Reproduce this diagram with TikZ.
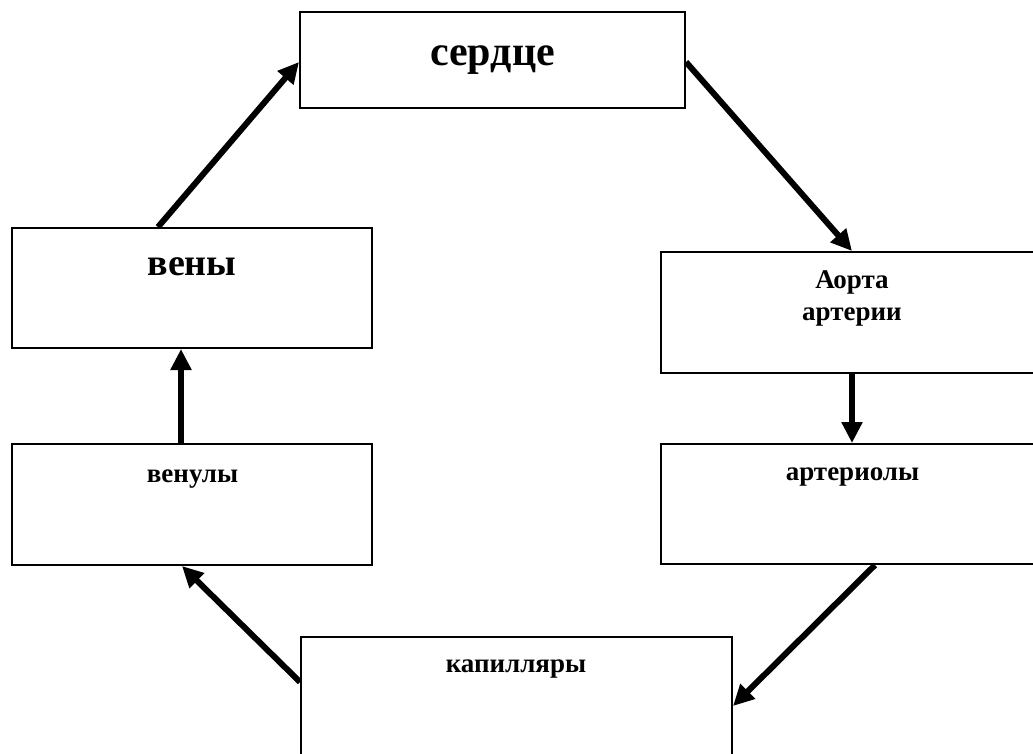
\documentclass[tikz,border=0pt]{standalone}
\usepackage{fontspec}
\setmainfont{Liberation Serif}
\usetikzlibrary{arrows.meta}
\tikzset{
  box/.style={draw=black, line width=2pt, fill=white, rectangle, inner sep=0pt},
  arr/.style={line width=6pt, -{Triangle[length=21pt,width=20pt]}},
  big/.style={anchor=base, font=\bfseries\fontsize{42}{48}\selectfont, inner sep=0pt},
  small/.style={anchor=base, font=\bfseries\fontsize{27}{32}\selectfont, inner sep=0pt},
}
\begin{document}
\begin{tikzpicture}[x=1pt, y=-1pt]
\useasboundingbox (0,0) rectangle (1033,753);
\clip (0,0) rectangle (1033,753);
% boxes
\node[box, minimum width=385pt, minimum height=96pt] (heart) at (492.5,60) {};
\node[box, minimum width=360pt, minimum height=120pt] (veny) at (192,288) {};
\node[box, minimum width=382pt, minimum height=121pt] (aorta) at (852,312.5) {};
\node[box, minimum width=360pt, minimum height=121pt] (venuly) at (192,504.5) {};
\node[box, minimum width=382pt, minimum height=120pt] (arteriol) at (852,504) {};
\node[box, minimum width=431pt, minimum height=140pt] (cap) at (516.5,707) {};
% texts
\node[big] (tHeart) at (492.5,65) {сердце};
\node[big, font=\bfseries\fontsize{38}{44}\selectfont] (tVeny) at (192,275) {вены};
\node[small] (tAorta1) at (852,288) {Аорта};
\node[small] (tAorta2) at (852,320) {артерии};
\node[small] (tVenuly) at (192.5,482) {венулы};
\node[small] (tArteriol) at (852.5,480) {артериолы};
\node[small] (tCap) at (516,672) {капилляры};
% arrows
\draw[arr] ([xshift=-34pt]veny.north) -- ([yshift=-2pt]heart.west);
\draw[arr] ([yshift=-2pt]heart.east) -- (aorta.north);
\draw[arr] (aorta.south) -- (arteriol.north);
\draw[arr] ([xshift=23pt]arteriol.south) -- ([yshift=-70pt]cap.north east);
\draw[arr] ([yshift=-46pt]cap.north west) -- ([xshift=-10pt]venuly.south);
\draw[arr] ([xshift=-11pt]venuly.north) -- ([xshift=-11pt]veny.south);
\end{tikzpicture}
\end{document}
